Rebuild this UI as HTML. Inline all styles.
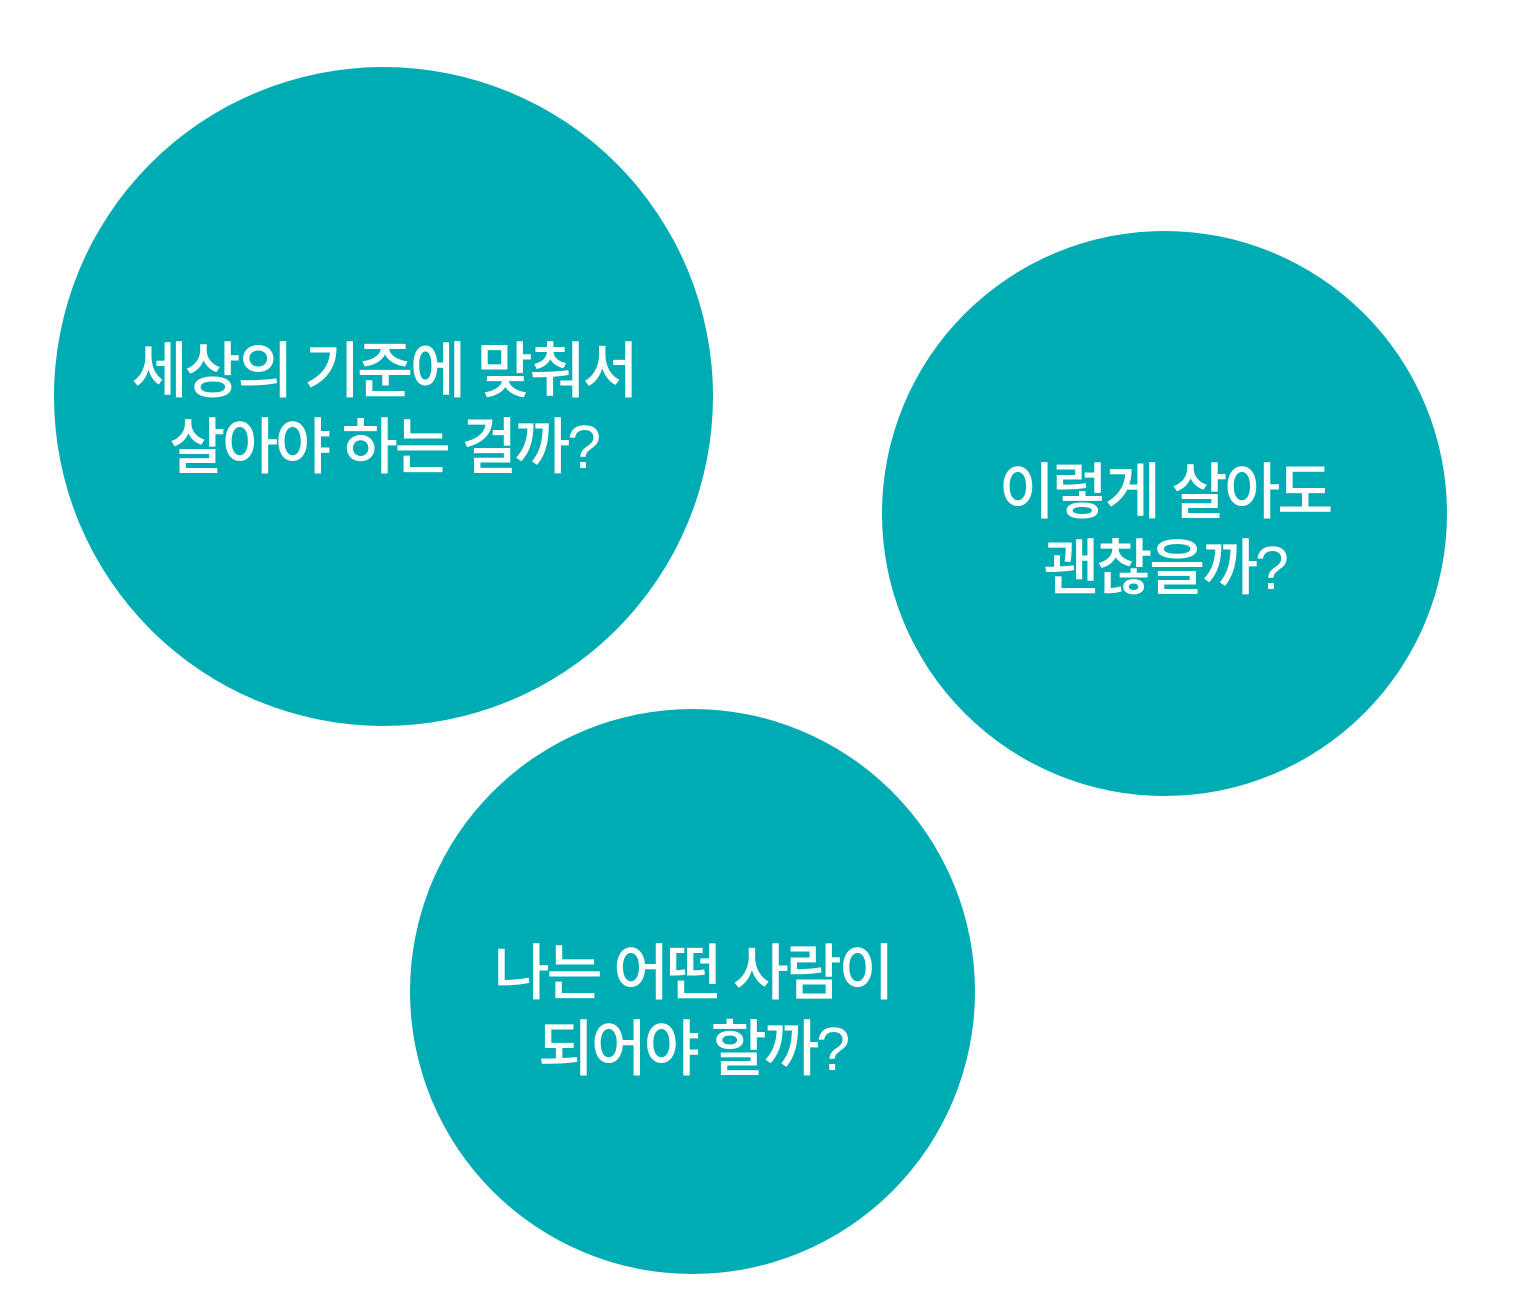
<!DOCTYPE html>
<html><head><meta charset="utf-8"><style>
html,body{margin:0;padding:0;background:#fff;width:1513px;height:1304px;overflow:hidden;position:relative}
.c{position:absolute;border-radius:50%;background:#00ACB3}
.t{position:absolute;color:#fff;text-align:center;font-family:"Liberation Sans","Noto Sans CJK KR","NanumGothic",sans-serif;font-size:61px;line-height:76px;letter-spacing:-3.2px;font-weight:500;white-space:nowrap}
</style></head><body>
<div class="c" style="left:54px;top:67px;width:659px;height:659px"></div>
<div class="c" style="left:882px;top:231px;width:565px;height:565px"></div>
<div class="c" style="left:410px;top:709px;width:565px;height:565px"></div>
<div class="t" style="left:54px;width:659px;top:333px">세상의 기준에 맞춰서<br>살아야 하는 걸까?</div>
<div class="t" style="left:882px;width:565px;top:454px">이렇게 살아도<br>괜찮을까?</div>
<div class="t" style="left:410px;width:565px;top:935px">나는 어떤 사람이<br>되어야 할까?</div>
</body></html>
